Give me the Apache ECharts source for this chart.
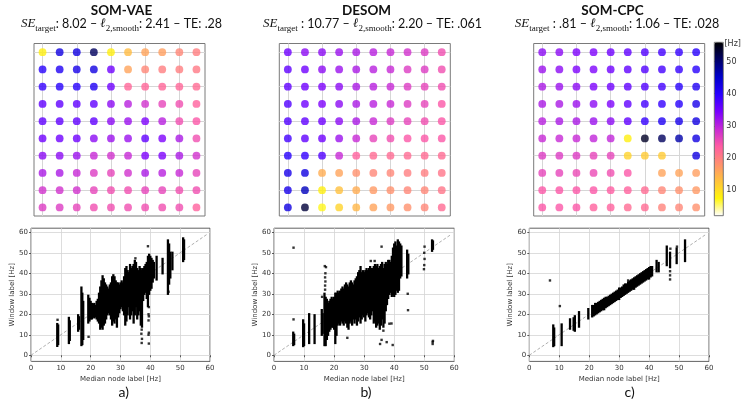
<!DOCTYPE html>
<html><head><meta charset="utf-8">
<script src="https://cdn.jsdelivr.net/npm/echarts@6/dist/echarts.min.js"></script>
<style>html,body{margin:0;padding:0;background:#fff}#c{width:743px;height:404px}</style>
</head><body><div id="c"></div><script>
// ---------- data ----------
const TITLES = ['SOM-VAE', 'DESOM', 'SOM-CPC'];
const SE_VALUES = [': 8.02', ' : 10.77', ' : .81'];
const L2_VALUES = ['2.41', '2.20', '1.06'];
const TE_VALUES = ['.28', '.061', '.028'];
const PANEL_LABELS = ['a)', 'b)', 'c)'];
const GRID_TICKS = [0, 2, 4, 6, 8];
const SCATTER_TICKS = [0, 10, 20, 30, 40, 50, 60];
const COLORBAR_TICKS = [10, 20, 30, 40, 50];
const X_NAME = 'Median node label [Hz]';
const Y_NAME = 'Window label [Hz]';
const CBAR_NAME = '[Hz]';

// node labels [Hz], rows top->bottom, columns left->right (null = empty node)
const VAE_NODES = [
  [8, 43, 43, 51, 8, 13.5, 16, 16.5, 19, 20],
  [40, 41, 42, 43, 35, 16, 19, 20, 20, 20.5],
  [39, 40, 40, 41, 35, 22.5, 22.5, 22.5, 22.5, 22],
  [36, 36, 36, 36, 33, 30, 28, 26, 25, 23],
  [36, 36, 36, 36, 33, 32, 34, 30, 25, 24],
  [35, 35, 35, 33, 32, 32, 36, 34, 31, 25],
  [33, 33, 32, 29, 28, 29, 34, 34, 31, 28],
  [31, 31, 29, 27, 26, 28, 31, 30, 29, 26],
  [28, 28, 28, 26, 25, 25, 26, 26, 25, 25],
  [27, 27, 26, 25, 25, 25, 25, 25, 25, 23]
];
const DESOM_NODES = [
  [35, 33, 33, 32, 31, 30, 29, 28, 27, 25],
  [36, 35, 33, 32, 31, 30, 29, 27, 27, 25],
  [36, 35, 34, 33, 31, 30, 29, 27, 26, 25],
  [37, 35, 34, 33, 31, 30, 29, 27, 26, 24],
  [37, 36, 35, 33, 31, 29, 27, 26, 25, 24],
  [38, 36, 35, 32, 29, 26, 25, 24, 24, 24],
  [40, 39, 37, 29, 23, 22, 22, 22, 22, 22],
  [42, 43, 15, 16, 18, 19, 19, 20, 20, 21],
  [42, 46, 8, 13, 15, 17, 18, 19, 19, 21],
  [43, 53, 7, 11, 14, 16, 17, 18, 19, 22]
];
const CPC_NODES = [
  [33, 33, 34, 34, 35, 36, 37, 38, 39, 40],
  [32, 33, 34, 34, 35, 36, 37, 38, 39, 40],
  [31, 32, 33, 34, 35, 36, 37, 38, 40, 41],
  [31, 31, 32, 33, 34, 36, 38, 39, 40, 42],
  [30, 31, 31, 32, 33, 36, 39, 41, 42, 43],
  [29, 29, 29, 29.5, 29.5, 8, 54, 51, 47, 43],
  [27, 27, 27, 26, 26, 11, 12, 12, null, 43],
  [26, 26, 25.5, 25.5, 25, 24, null, 16, 16, 16.5],
  [24, 24, 24, 24, 23.5, 23, 22, 19, 18, 17],
  [24, 24, 24, 23, 23, 22, 22, 19.5, 19, 18]
];

// dense scatter columns: [median node label, min window label, max window label]
const VAE_STRIPS = [
  [8.8,4.6,15.2],[9.1,5.5,14.5],[12.7,6,18.2],[13.0,7.5,16.5],[15.8,12,19.5],[16.1,13,18.5],
  [16.9,5,33],[17.2,5.5,30],[17.5,8,26],[19.2,16,29],[19.6,17,27.5],[20.0,18,26],[20.4,18,25],
  [20.8,19,24.5],[21.2,18.5,25],[21.6,19,24],[22.0,18,26],[22.4,17,27],[22.8,16,30],[23.2,13,33],
  [23.6,14,36],[24.0,13,38.5],[24.4,15,37],[24.8,16,35],[25.2,18,34],[25.6,20,33],[26.0,21,32],
  [26.4,20,34],[26.8,18,35],[27.2,15,38],[27.6,17,39],[28.0,16,38],[28.4,18,36],[28.8,14,35],
  [29.2,19,35],[29.6,21,34],[30.0,23,35],[30.4,24,36],[30.8,22,35],[31.2,20,38],[31.6,15,42],
  [32.0,17,43],[32.4,20,41],[32.8,24,40],[33.2,18,44],[33.6,20,42],[34.0,22,43],[34.4,16,44],
  [34.8,20,46],[35.2,24,45],[35.6,18,42],[36.0,20,41],[36.4,22,43],[36.8,15,42],[37.2,14,41],
  [37.6,27,42],[38.0,30,43],[38.4,31,44],[38.8,28,45],[39.2,24,48],[39.6,30,49],[40.0,32,48],
  [40.4,33,47],[40.8,36,46],[41.2,38,45],[42.1,37,48],[44.1,40,47],[45.9,30,56],[46.3,35,54],
  [46.7,38,50],[47.4,42,50],[51.0,46,57],[51.3,47,56]
];
const VAE_POINTS = [
  [8.9,17.3],[19.3,9],[37.1,6],[37.2,8],[37.0,10.5],[37.1,12.5],[39.5,5.7],[39.4,10],[39.5,11],
  [39.4,17],[39.5,19],[39.4,20],[39.5,23.5],[39.2,53.2],[35.0,47.3],[46.1,31]
];
const DESOM_STRIPS = [
  [6.4,5,11],[6.7,5.5,10],[9.7,4.5,17],[10.0,5,15],[11.7,6,20],[13.5,6,19.5],[15.9,10,22],
  [16.2,11,20],[16.8,5,30],[17.2,5,28],[17.6,8,27],[18.0,10,25],[18.4,12,26],[18.8,13,27],
  [19.2,14,28],[19.6,14,27],[20.0,13,28],[20.4,6,30],[20.8,10,30],[21.2,15,31],[21.6,16,30],
  [22.0,15,31],[22.4,17,32],[22.8,16,33],[23.2,15,32],[23.6,17,34],[24.0,16,35],[24.4,14,34],
  [24.8,13,33],[25.2,16,35],[25.6,17,36],[26.0,15,35],[26.4,18,34],[26.8,16,36],[27.2,18,37],
  [27.6,15,38],[28.0,17,40],[28.4,19,41],[28.8,16,43],[29.2,18,40],[29.6,20,41],[30.0,19,40],
  [30.4,17,41],[30.8,20,42],[31.2,21,41],[31.6,19,42],[32.0,18,43],[32.4,20,42],[32.8,22,42],
  [33.2,16,43],[33.6,17,44],[34.0,14,43],[34.4,15,44],[34.8,16,42],[35.2,13,43],[35.6,15,44],
  [36.0,18,45],[36.4,14,42],[36.8,16,44],[37.2,22,45],[37.6,25,44],[38.0,28,46],[38.4,30,46],
  [38.8,31,45],[39.2,29,48],[39.6,30,52],[40.0,29,54],[40.4,30,55],[40.8,32,53],[41.2,31,56],
  [41.6,32,55],[42.0,38,54],[42.4,39,53],[44.3,38,51],[44.7,40,49],[52.6,51,56],[52.9,52,55.5]
];
const DESOM_POINTS = [
  [6.5,17.5],[6.5,52.5],[16,28.5],[17,32],[17,34],[17.1,36],[17,38],[17.1,40],[16.9,43.5],
  [17.3,43],[24.4,8.5],[32.2,46],[35.3,5.5],[36.4,12],[35.8,53],[37.5,6.4],[38.4,15.4],
  [39.1,15.5],[39.5,5],[44.5,30],[44.6,22],[49.9,42],[50.0,44],[50.1,47],[50.0,50],[50.1,53],
  [52.8,5.5],[52.8,6.5],[52.9,7],[35.8,7.5],[33.5,46]
];
const CPC_STRIPS = [
  [8.0,4.5,14.5],[8.3,5,13],[10.8,5,15],[13.6,13,17.5],[14.8,12.5,18],[15.2,12,19],[16.6,14,21],
  [19.7,18,22.5],[21.0,19,24],[21.5,19.5,24],[22.0,20,25],[22.5,20.5,25],[23.0,21,25.5],
  [23.5,21.5,26],[24.0,22,26.5],[24.5,22.5,27],[25.0,22.5,27.5],[25.5,23.5,28],[26.0,24,28],
  [26.5,24.5,28.5],[27.0,25,29],[27.5,25.5,29.5],[28.0,26,30],[28.5,26.5,30.5],[29.0,27,31],
  [29.5,27.5,31.5],[30.0,27.5,32.5],[30.5,28.5,32.5],[31.0,29,33],[31.5,29.5,34],[32.0,30,34.5],
  [32.5,30.5,34.5],[33.0,31,35.5],[33.5,31.5,36],[34.0,32,36.5],[34.5,32.5,37],[35.0,32.5,37.5],
  [35.5,33.5,38],[36.0,34,38.5],[36.5,34.5,39],[37.0,35,39.5],[37.5,35.5,40],[38.0,36,40.5],
  [38.5,36.5,41],[39.0,37,41.5],[39.5,37.5,42],[40.0,37.5,42.5],[40.5,38.5,43],[41.0,39,43],
  [42.5,41,46],[43.2,41,45],[45.9,44,53],[47.0,43,50],[49.2,45,52],[52.0,46,56]
];
const CPC_POINTS = [[6.9,36.5],[10.2,24],[47,37],[47,39],[47,41],[47.1,52],[33,36.5],[49.3,53]];
const DIAGONAL = [[0, 0], [59, 59]];

// gnuplot2 (reversed) colour stops, low -> high
const CMAP = ['#ffffff','#fff50a','#ffc23d','#ff8f70','#ff5ca3','#c729d6','#7800ff','#2800ff','#0000cc','#000066','#000000'];
const CMIN = 2, CMAX = 56;

// ---------- layout ----------
const TOP_LEFT = [34, 279.3, 533.7];
const TOP_CENTER = [121.5, 366.5, 612.5];
const SUB_CENTER = [121.5, 372.5, 617];
const BOT_LEFT = [31, 274, 529.3];
const BOT_WIDTH = [179, 180.3, 179.7];
const LABEL_CENTER = [123.7, 366, 629.7];

const NODES = [VAE_NODES, DESOM_NODES, CPC_NODES];
const STRIPS = [VAE_STRIPS, DESOM_STRIPS, CPC_STRIPS];
const POINTS = [VAE_POINTS, DESOM_POINTS, CPC_POINTS];

const sans = 'DejaVu Sans';
const grid = [], xAxis = [], yAxis = [], series = [], title = [];

for (let i = 0; i < 3; i++) {
  grid.push({left: TOP_LEFT[i], top: 43.5, width: 171, height: 172.5, show: true, borderColor: '#7a7a7a', borderWidth: 1});
  xAxis.push({gridIndex: i, type: 'value', min: -0.5, max: 9.5,
    axisLine: {show: false}, axisLabel: {show: false},
    axisTick: {show: true, length: 3, customValues: GRID_TICKS, lineStyle: {color: '#7a7a7a'}},
    splitLine: {show: false}});
  yAxis.push({gridIndex: i, type: 'value', min: -0.5, max: 9.5, inverse: true,
    axisLine: {show: false}, axisLabel: {show: false},
    axisTick: {show: true, length: 3, customValues: GRID_TICKS, lineStyle: {color: '#7a7a7a'}},
    splitLine: {show: false}});
}
for (let i = 0; i < 3; i++) {
  grid.push({left: BOT_LEFT[i], top: 228.2, width: BOT_WIDTH[i], height: 133.2, show: true, borderColor: '#3a3a3a', borderWidth: 0.8});
  xAxis.push({gridIndex: 3 + i, type: 'value', min: 0, max: 60, interval: 10,
    name: X_NAME, nameLocation: 'middle', nameGap: 14,
    nameTextStyle: {fontFamily: sans, fontSize: 7, color: '#333'},
    axisLine: {show: false},
    axisLabel: {fontFamily: sans, fontSize: 7, color: '#333', margin: 3},
    axisTick: {show: true, length: 2, lineStyle: {color: '#333', width: 0.8}},
    splitLine: {show: true, lineStyle: {color: '#d4d4d4', width: 0.8}}});
  yAxis.push({gridIndex: 3 + i, type: 'value', min: -3, max: 62,
    name: Y_NAME, nameLocation: 'middle', nameGap: 14,
    nameTextStyle: {fontFamily: sans, fontSize: 7, color: '#333'},
    axisLine: {show: false},
    axisLabel: {fontFamily: sans, fontSize: 7, color: '#333', margin: 3, customValues: SCATTER_TICKS},
    axisTick: {show: true, length: 2, customValues: SCATTER_TICKS, lineStyle: {color: '#333', width: 0.8}},
    splitLine: {show: true, lineStyle: {color: '#d4d4d4', width: 0.8}}});
}
// colorbar axis
grid.push({left: 714.3, top: 42.3, width: 9, height: 173.4, show: true, borderColor: '#555', borderWidth: 0.8, z: 10});
xAxis.push({gridIndex: 6, type: 'value', min: 0, max: 1, show: false});
yAxis.push({gridIndex: 6, type: 'value', min: CMIN, max: CMAX, position: 'right',
  axisLine: {show: false}, splitLine: {show: false},
  axisLabel: {fontFamily: sans, fontSize: 8, color: '#333', margin: 3, customValues: COLORBAR_TICKS},
  axisTick: {show: true, length: 2.5, customValues: COLORBAR_TICKS, lineStyle: {color: '#333'}}});

const gridLineData = GRID_TICKS.map(v => ({xAxis: v})).concat(GRID_TICKS.map(v => ({yAxis: v})));
for (let i = 0; i < 3; i++) {
  // grid lines through every other node, drawn beneath the nodes
  series.push({type: 'scatter', xAxisIndex: i, yAxisIndex: i, data: [], z: 1, silent: true,
    markLine: {silent: true, symbol: 'none', z: 1, label: {show: false}, animation: false,
      lineStyle: {color: '#d6d6d6', width: 1, type: 'solid'}, data: gridLineData}});
}
for (let i = 0; i < 3; i++) {
  const data = [];
  NODES[i].forEach((row, r) => row.forEach((v, c) => { if (v !== null) data.push([c, r, v]); }));
  series.push({type: 'scatter', xAxisIndex: i, yAxisIndex: i, symbolSize: 7.8, data: data, z: 3});
}
const stripRender = (params, api) => {
  const a = api.coord([api.value(0), api.value(2)]);
  const b = api.coord([api.value(0), api.value(1)]);
  const w = 2.3;
  return {type: 'rect', shape: {x: a[0] - w / 2, y: a[1] - w / 2, width: w, height: b[1] - a[1] + w}, style: {fill: '#000'}};
};
for (let i = 0; i < 3; i++) {
  series.push({type: 'line', xAxisIndex: 3 + i, yAxisIndex: 3 + i, data: DIAGONAL, showSymbol: false,
    lineStyle: {color: '#9a9a9a', width: 0.8, type: [3, 2]}, z: 1, silent: true});
  series.push({type: 'custom', xAxisIndex: 3 + i, yAxisIndex: 3 + i, data: STRIPS[i], renderItem: stripRender,
    encode: {x: 0, y: [1, 2]}, z: 2});
  series.push({type: 'scatter', xAxisIndex: 3 + i, yAxisIndex: 3 + i, data: POINTS[i], symbol: 'rect',
    symbolSize: 2.4, itemStyle: {color: '#000'}, z: 2});
}

const subRich = {
  se: {fontFamily: 'Liberation Serif', fontStyle: 'italic', fontWeight: 'normal', fontSize: 13, lineHeight: 18, color: '#111'},
  sub: {fontFamily: 'Liberation Serif', fontWeight: 'normal', fontSize: 9, lineHeight: 9, verticalAlign: 'bottom', color: '#111'},
  n: {fontFamily: 'Lato', fontWeight: 'normal', fontSize: 12.5, lineHeight: 18, color: '#111'}
};
for (let i = 0; i < 3; i++) {
  title.push({text: TITLES[i], left: TOP_CENTER[i], top: 4, textAlign: 'center', padding: 0,
    textStyle: {fontFamily: 'Lato', fontWeight: 'bold', fontSize: 13.5, color: '#111'}});
  title.push({text: '{se|SE}{sub|target}{n|' + SE_VALUES[i] + ' – }{se|ℓ}{sub|2,smooth}{n|: ' + L2_VALUES[i] + ' – TE: ' + TE_VALUES[i] + '}',
    left: SUB_CENTER[i], top: 15, textAlign: 'center', padding: 0,
    textStyle: {fontWeight: 'normal', rich: subRich}});
  title.push({text: PANEL_LABELS[i], left: LABEL_CENTER[i], top: 385, textAlign: 'center', padding: 0,
    textStyle: {fontFamily: 'Lato', fontWeight: 'normal', fontSize: 14, color: '#111'}});
}
title.push({text: CBAR_NAME, left: 724.5, top: 40, padding: 0,
  textStyle: {fontFamily: sans, fontWeight: 'normal', fontSize: 8, color: '#333'}});

const chart = echarts.init(document.getElementById('c'), null, {renderer: 'canvas'});
chart.setOption({
  animation: false,
  backgroundColor: '#fff',
  title: title,
  grid: grid, xAxis: xAxis, yAxis: yAxis,
  visualMap: {type: 'continuous', min: CMIN, max: CMAX, dimension: 2, seriesIndex: [3, 4, 5],
    inRange: {color: CMAP}, left: 714.3, top: 42.3, itemWidth: 9, itemHeight: 173.4, padding: 0,
    calculable: false, hoverLink: false, orient: 'vertical', text: null, showLabel: false},
  series: series
});
</script></body></html>
